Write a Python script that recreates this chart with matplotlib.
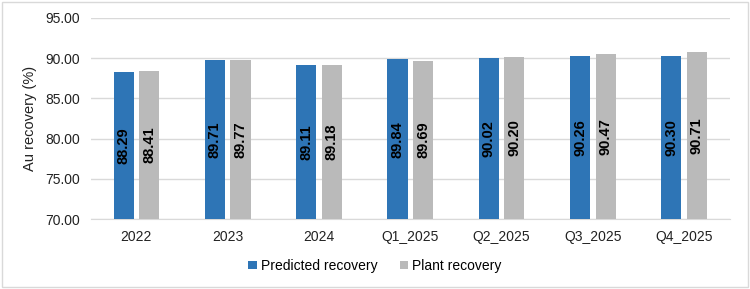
import numpy as np
import matplotlib
matplotlib.use("Agg")
import matplotlib.pyplot as plt
from matplotlib.patches import Rectangle

categories = ["2022", "2023", "2024", "Q1_2025", "Q2_2025", "Q3_2025", "Q4_2025"]
predicted = [88.29, 89.71, 89.11, 89.84, 90.02, 90.26, 90.30]
plant = [88.41, 89.77, 89.18, 89.69, 90.20, 90.47, 90.71]

plt.rcParams['font.family'] = ['Liberation Sans', 'DejaVu Sans']

fig = plt.figure(figsize=(7.5, 2.89), dpi=100)
ax = fig.add_axes([0.121, 0.242, 0.852, 0.696])

x = np.arange(len(categories))
width = 0.22
offset = 0.14
ymin = 70

blue = "#2E75B6"
grey = "#BABABA"

b1 = ax.bar(x - offset, np.array(predicted) - ymin, width, bottom=ymin, color=blue,
            label="Predicted recovery", zorder=3)
b2 = ax.bar(x + offset, np.array(plant) - ymin, width, bottom=ymin, color=grey,
            label="Plant recovery", zorder=3)

# value labels, centred in each bar
for bars, vals in ((b1, predicted), (b2, plant)):
    for rect, v in zip(bars, vals):
        ax.text(rect.get_x() + rect.get_width() / 2, (ymin + v) / 2, "{:.2f}".format(v),
                rotation=90, ha="center", va="center", fontsize=10.5,
                fontweight="bold", color="black", zorder=4)

ax.set_xlim(-0.5, len(categories) - 0.5)
ax.set_ylim(70, 95)
ax.set_yticks(np.arange(70, 96, 5))
ax.set_yticklabels(["{:.2f}".format(t) for t in np.arange(70, 96, 5)])
ax.set_xticks(x)
ax.set_xticklabels(categories)
ax.tick_params(axis="both", length=0, labelsize=10, colors="#222222")
ax.tick_params(axis="x", pad=8)
ax.tick_params(axis="y", pad=8)
ax.grid(axis="y", color="#D9D9D9", linewidth=1, zorder=0)
for s in ["top", "right", "left"]:
    ax.spines[s].set_visible(False)
ax.spines["bottom"].set_color("#D9D9D9")
ax.set_ylabel("Au recovery (%)", fontsize=10.5, color="#222222", labelpad=6)

fig.legend(loc="center", bbox_to_anchor=(0.5, 0.08), ncol=2, frameon=False,
           fontsize=10, handlelength=0.6, handleheight=0.6, handletextpad=0.3,
           columnspacing=1.6)

fig.patches.append(Rectangle((0.003, 0.007), 0.994, 0.986, transform=fig.transFigure,
                             fill=False, edgecolor="#D9D9D9", linewidth=1))

fig.savefig("out.png", dpi=100)
